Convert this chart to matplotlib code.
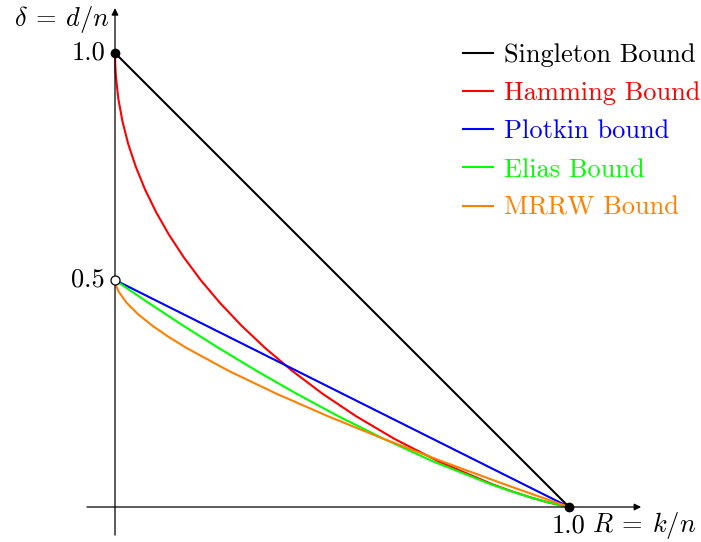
import matplotlib.pyplot as plt
import numpy as np

plt.rcParams['mathtext.fontset'] = 'cm'
plt.rcParams['font.family'] = 'cmr10'
plt.rcParams['axes.formatter.use_mathtext'] = True

# Singleton bound: delta = 1 - R
singleton_R = [0.0, 1.0]
singleton_d = [1.0, 0.0]

# Hamming bound
hamming_d = [0.0, 0.01, 0.02, 0.035, 0.05, 0.1, 0.15, 0.2, 0.25, 0.3, 0.35, 0.4, 0.45,
             0.5, 0.55, 0.6, 0.65, 0.7, 0.75, 0.8, 0.85, 0.9, 0.95, 0.975, 1.0]
hamming_R = [1.0, 0.9546, 0.9192, 0.8728, 0.8313, 0.7136, 0.6157, 0.5310, 0.4564, 0.3902,
             0.3310, 0.2781, 0.2308, 0.1887, 0.1515, 0.1187, 0.0903, 0.0659, 0.0456, 0.0290,
             0.0163, 0.0072, 0.0018, 0.00045, 0.0]

# Plotkin bound
plotkin_R = [0.0, 1.0]
plotkin_d = [0.5, 0.0]

# Elias bound
elias_d = [0.0, 0.01, 0.02, 0.035, 0.05, 0.1, 0.15, 0.2, 0.25, 0.3, 0.35, 0.4, 0.45,
           0.475, 0.49, 0.5]
elias_R = [1.0, 0.9544, 0.9185, 0.8710, 0.8279, 0.7018, 0.5920, 0.4919, 0.3992, 0.3117,
           0.2288, 0.1495, 0.0734, 0.0364, 0.0145, 0.0]

# MRRW bound
mrrw_d = [0.0, 0.025, 0.05, 0.1, 0.15, 0.2, 0.25, 0.3, 0.35, 0.375, 0.4, 0.425, 0.45,
          0.475, 0.49, 0.5]
mrrw_R = [1.0, 0.9285, 0.8582, 0.7219, 0.5919, 0.4690, 0.3546, 0.2502, 0.1581, 0.1176,
          0.0815, 0.0504, 0.0253, 0.0076, 0.0015, 0.0]

labels = ['Singleton Bound', 'Hamming Bound', 'Plotkin bound', 'Elias Bound', 'MRRW Bound']
colors = ['black', 'red', 'blue', '#00ff00', '#ff8000']

fig = plt.figure(figsize=(7.01, 5.42), dpi=100)
ax = fig.add_axes([0, 0, 1, 1])
ax.set_xlim(-115 / 454, 586 / 454)
ax.set_ylim(-35 / 454, 507 / 454)
ax.axis('off')

lw = 1.5
ax.plot(singleton_R, singleton_d, color=colors[0], lw=lw, label=labels[0])
ax.plot(hamming_R, hamming_d, color=colors[1], lw=lw, label=labels[1])
ax.plot(plotkin_R, plotkin_d, color=colors[2], lw=lw, label=labels[2])
ax.plot(elias_R, elias_d, color=colors[3], lw=lw, label=labels[3])
ax.plot(mrrw_R, mrrw_d, color=colors[4], lw=lw, label=labels[4])

# axes with arrows
ax.annotate('', xy=(1.165, 0), xytext=(-0.068, 0),
            arrowprops=dict(arrowstyle='-|>', color='black', lw=0.9, mutation_scale=10))
ax.annotate('', xy=(0, 1.105), xytext=(0, -0.068),
            arrowprops=dict(arrowstyle='-|>', color='black', lw=0.9, mutation_scale=10))

# marked points
ax.plot([0, 1], [1, 0], 'o', color='black', markersize=6, zorder=5)
ax.plot([0], [0.5], 'o', markerfacecolor='white', markeredgecolor='black',
        markersize=6.5, markeredgewidth=0.9, zorder=5)

fs = 19
ax.text(-0.022, 1.0, '1.0', ha='right', va='center', fontsize=fs)
ax.text(-0.022, 0.5, '0.5', ha='right', va='center', fontsize=fs)
ax.text(1.0, -0.016, '1.0', ha='center', va='top', fontsize=fs)
ax.text(1.05, -0.055, r'$R\:=\:k/n$', ha='left', va='baseline', fontsize=fs)
ax.text(-0.012, 1.074, r'$\delta\:=\:d/n$', ha='right', va='center', fontsize=fs)

leg = ax.legend(loc='upper left', bbox_to_anchor=(450 / 701, 1 - 30 / 542), frameon=False,
                fontsize=fs, handlelength=1.14, handletextpad=0.4, labelspacing=0.55,
                borderpad=0)
for t, c in zip(leg.get_texts(), colors):
    t.set_color(c)

fig.savefig('out.png', dpi=100)
